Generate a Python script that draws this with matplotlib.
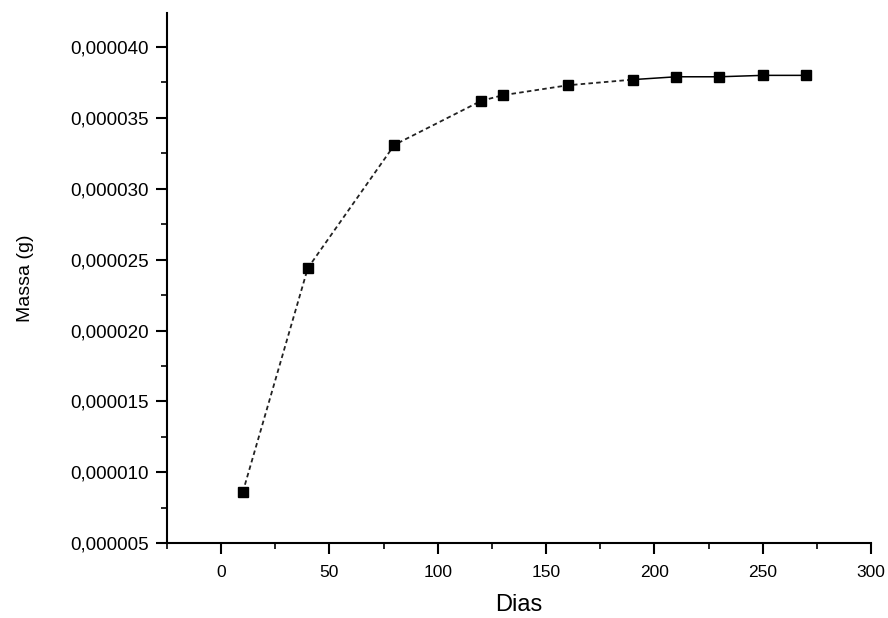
import matplotlib
matplotlib.use("Agg")
import matplotlib.pyplot as plt
from matplotlib.ticker import FuncFormatter, MultipleLocator

# dados
dias = [10, 40, 80, 120, 130, 160, 190, 210, 230, 250, 270]
massa = [8.6e-6, 24.4e-6, 33.1e-6, 36.2e-6, 36.6e-6, 37.3e-6,
         37.7e-6, 37.9e-6, 37.9e-6, 38.0e-6, 38.0e-6]

x_ticks = [0, 50, 100, 150, 200, 250, 300]
y_ticks = [5e-6, 10e-6, 15e-6, 20e-6, 25e-6, 30e-6, 35e-6, 40e-6]

plt.rcParams['font.family'] = ['Liberation Sans', 'DejaVu Sans']

fig = plt.figure(figsize=(8.88, 6.18), dpi=100)
ax = fig.add_axes([0.188, 0.121, 0.793, 0.858])

# trecho tracejado ate 190 dias, depois continuo
ax.plot(dias[:7], massa[:7], color='#222222', lw=1.3, ls=(0, (2.5, 1.8)))
ax.plot(dias[6:], massa[6:], color='black', lw=1.1, ls='-')
ax.plot(dias, massa, ls='none', marker='s', ms=6.5, color='black')

ax.set_xlim(-25, 300)
ax.set_ylim(5e-6, 42.4e-6)
ax.set_xticks(x_ticks)
ax.set_yticks(y_ticks)
ax.xaxis.set_minor_locator(MultipleLocator(25))
ax.yaxis.set_minor_locator(MultipleLocator(2.5e-6))
ax.yaxis.set_major_formatter(FuncFormatter(lambda v, p: f"{v:.6f}".replace('.', ',')))

for s in ['top', 'right']:
    ax.spines[s].set_visible(False)
for s in ['left', 'bottom']:
    ax.spines[s].set_linewidth(1.5)

ax.tick_params(which='major', direction='out', length=8, width=1.5, pad=5)
ax.tick_params(axis='y', which='major', labelsize=13.5)
ax.tick_params(axis='x', which='major', labelsize=12.5, pad=8)
ax.tick_params(which='minor', direction='out', length=4, width=1.2)

ax.set_xlabel("Dias", fontsize=17, labelpad=10)
ax.set_ylabel("Massa (g)", fontsize=14, labelpad=26)

fig.savefig("out.png", dpi=100)
